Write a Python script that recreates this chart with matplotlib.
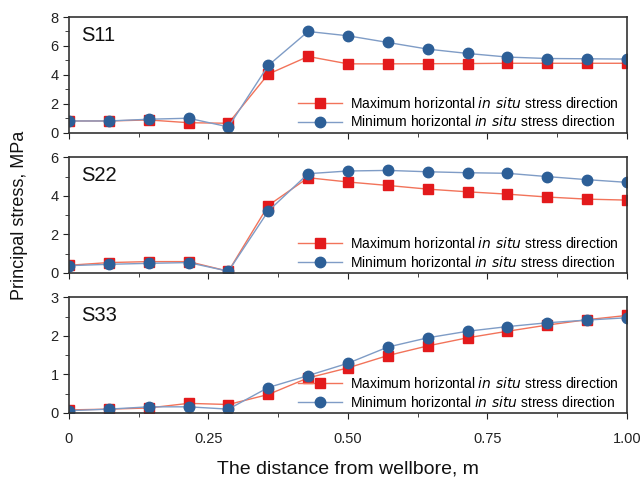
import numpy as np
import matplotlib
matplotlib.use("Agg")
import matplotlib.pyplot as plt
from matplotlib.ticker import MultipleLocator

plt.rcParams['font.family'] = ['Liberation Sans', 'DejaVu Sans']

# distance from wellbore, m
dist = np.arange(15) / 14.0
xticks = [0, 0.25, 0.50, 0.75, 1.00]
xticklabels = ['0', '0.25', '0.50', '0.75', '1.00']

s11_max = [0.81, 0.81, 0.88, 0.69, 0.65, 4.05, 5.27, 4.76, 4.76, 4.77, 4.78, 4.80, 4.80, 4.80, 4.80]
s11_min = [0.81, 0.81, 0.93, 1.00, 0.40, 4.65, 7.00, 6.70, 6.24, 5.78, 5.48, 5.23, 5.13, 5.11, 5.09]

s22_max = [0.40, 0.54, 0.59, 0.59, 0.09, 3.50, 4.94, 4.72, 4.54, 4.35, 4.21, 4.09, 3.94, 3.83, 3.78]
s22_min = [0.38, 0.45, 0.50, 0.54, 0.09, 3.21, 5.15, 5.29, 5.32, 5.25, 5.20, 5.17, 5.00, 4.84, 4.70]

s33_max = [0.08, 0.10, 0.13, 0.25, 0.22, 0.48, 0.91, 1.17, 1.49, 1.74, 1.95, 2.12, 2.28, 2.42, 2.53]
s33_min = [0.06, 0.10, 0.16, 0.16, 0.10, 0.66, 0.97, 1.29, 1.71, 1.95, 2.12, 2.24, 2.34, 2.41, 2.47]

panels = [
    ('S11', s11_max, s11_min, 8, 2),
    ('S22', s22_max, s22_min, 6, 2),
    ('S33', s33_max, s33_min, 3, 1),
]

red_m = '#e31a1c'
red_l = '#f2735a'
blue_m = '#2d5f97'
blue_l = '#7f9cc6'

fig = plt.figure(figsize=(6.41, 4.79), dpi=100)
tops = [0.9645, 0.6716, 0.3793]
h = 0.2415

for i, (name, ymax, ymin, top, step) in enumerate(panels):
    ax = fig.add_axes([0.1076, tops[i] - h, 0.8705, h])
    ax.plot(dist, ymax, color=red_l, lw=1.0, marker='s', ms=6.5,
            mfc=red_m, mec=red_m, label='Maximum horizontal $\\it{in\\ situ}$ stress direction')
    ax.plot(dist, ymin, color=blue_l, lw=1.0, marker='o', ms=7.5,
            mfc=blue_m, mec=blue_m, label='Minimum horizontal $\\it{in\\ situ}$ stress direction')
    ax.set_xlim(0, 1.0)
    ax.set_ylim(0, top)
    ax.yaxis.set_major_locator(MultipleLocator(step))
    ax.yaxis.set_minor_locator(MultipleLocator(step / 2))
    ax.set_xticks(xticks)
    ax.xaxis.set_minor_locator(MultipleLocator(0.125))
    ax.tick_params(which='both', direction='out', labelsize=10.5, colors='#222222')
    ax.tick_params(which='major', length=4)
    ax.tick_params(which='minor', length=3)
    ax.tick_params(axis='x', which='both', top=False, bottom=True, pad=10)
    ax.tick_params(axis='y', which='both', right=False)
    for sp in ax.spines.values():
        sp.set_color('#333333')
        sp.set_linewidth(1.2)
    if i < 2:
        ax.set_xticklabels([])
    else:
        ax.set_xticklabels(xticklabels)
    ax.text(0.022, 0.84, name, transform=ax.transAxes, fontsize=14.5,
            va='center', ha='left', color='#111111')
    ax.legend(loc='lower right', bbox_to_anchor=(0.995, -0.02), frameon=False,
              fontsize=10, handlelength=3.2, handletextpad=0.55,
              labelspacing=0.25, borderaxespad=0.0)

fig.text(20 / 641, 1 - 215 / 479, 'Principal stress, MPa', fontsize=13,
         rotation=90, ha='center', va='center', color='#111111')
fig.text(0.543, 1 - 461 / 479, 'The distance from wellbore, m', fontsize=14,
         ha='center', va='top', color='#111111')

fig.savefig('out.png', dpi=100)
